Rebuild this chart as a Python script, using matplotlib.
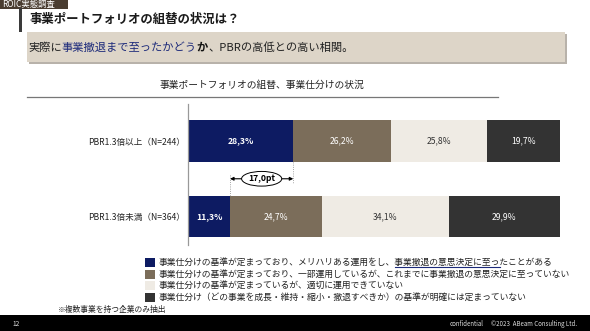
import matplotlib
matplotlib.use("Agg")
import matplotlib.pyplot as plt
from matplotlib.patches import Rectangle

plt.rcParams['font.family'] = ['Noto Sans CJK JP', 'DejaVu Sans']

# ---- data ----
groups = ["PBR1.3倍以上（N=244）", "PBR1.3倍未満（N=364）"]
series_labels = [
    "事業仕分けの基準が定まっており、メリハリある運用をし、事業撤退の意思決定に至ったことがある",
    "事業仕分けの基準が定まっており、一部運用しているが、これまでに事業撤退の意思決定に至っていない",
    "事業仕分けの基準が定まっているが、適切に運用できていない",
    "事業仕分け（どの事業を成長・維持・縮小・撤退すべきか）の基準が明確には定まっていない",
]
values_high = [28.3, 26.2, 25.8, 19.7]
values_low = [11.3, 24.7, 34.1, 29.9]
diff_label = "17,0pt"

colors = ["#0d1b62", "#7b6d5a", "#efebe4", "#333333"]
text_colors = ["white", "white", "#333333", "white"]

W, H = 590, 331
fig = plt.figure(figsize=(W / 100, H / 100), dpi=100)
fig.patch.set_facecolor("white")


def fx(px):
    return px / W


def fy(py):
    return 1 - py / H


# ---- header ----
fig.patches.append(Rectangle((fx(0), fy(8.5)), fx(68), 8.5 / H, transform=fig.transFigure,
                             facecolor="#4a3d31", edgecolor="none"))
fig.text(fx(2), fy(4.3), "ROIC実態調査", color="white", fontsize=6.0, va="center", ha="left")
fig.patches.append(Rectangle((fx(19), fy(32)), fx(3), 23.5 / H, transform=fig.transFigure,
                             facecolor="#3a3a3a", edgecolor="none"))
fig.text(fx(29), fy(19), "事業ポートフォリオの組替の状況は？", fontsize=8.95, fontweight="bold",
         color="#1a1a1a", va="center", ha="left")

# subtitle box with shadow
fig.patches.append(Rectangle((fx(29), fy(64)), fx(538), 30 / H, transform=fig.transFigure,
                             facecolor="#b8b2aa", edgecolor="none"))
fig.patches.append(Rectangle((fx(27), fy(62)), fx(538), 30 / H, transform=fig.transFigure,
                             facecolor="#ddd5c8", edgecolor="none"))

fig.canvas.draw()
renderer = fig.canvas.get_renderer()


def run_text(x_px, y_px, pieces, fontsize):
    x = fx(x_px)
    for s, col, wt in pieces:
        t = fig.text(x, fy(y_px), s, color=col, fontweight=wt, fontsize=fontsize,
                     va="center", ha="left")
        bb = t.get_window_extent(renderer=renderer)
        x = bb.x1 / W
    return x


run_text(28, 47.5, [("実際に", "#222222", "normal"),
                    ("事業撤退まで至ったかどう", "#1c2a7a", "normal"),
                    ("か", "#111111", "bold"),
                    ("、PBRの高低との高い相関。", "#222222", "normal")], 8.1)

# chart title and rule
fig.text(fx(262), fy(85), "事業ポートフォリオの組替、事業仕分けの状況", fontsize=7.0,
         color="#222222", ha="center", va="center")
fig.add_artist(plt.Line2D([fx(27), fx(498)], [fy(96.5), fy(96.5)], color="#777777", lw=0.9))

# ---- bars ----
ax = fig.add_axes([fx(188), fy(245), fx(372), 141 / H])
ax.set_xlim(0, 100)
ax.set_ylim(1.377, -0.490)
bar_h = 0.55
for yi, vals in enumerate([values_high, values_low]):
    left = 0
    for j, v in enumerate(vals):
        ax.barh(yi, v, left=left, height=bar_h, color=colors[j], edgecolor="none")
        ax.text(left + v / 2, yi, f"{v:.1f}%".replace(".", ","), ha="center", va="center",
                color=text_colors[j], fontsize=6.2,
                fontweight="bold" if j == 0 else "normal")
        left += v
for s in ["top", "right", "bottom"]:
    ax.spines[s].set_visible(False)
ax.spines["left"].set_color("#999999")
ax.spines["left"].set_linewidth(0.9)
ax.set_xticks([])
ax.set_yticks([0, 1])
ax.set_yticklabels(groups, fontsize=6.2, color="#222222")
ax.tick_params(axis="y", length=0, pad=2)
ax.patch.set_alpha(0)

# difference annotation
ya = 0.5
ax.plot([values_high[0]] * 2, [bar_h / 2, ya + 0.05], color="#888888", lw=0.6, ls=":")
ax.plot([values_low[0]] * 2, [ya - 0.05, 1 - bar_h / 2], color="#888888", lw=0.6, ls=":")
ax.annotate("", xy=(values_low[0], ya), xytext=(values_high[0], ya),
            arrowprops=dict(arrowstyle="<|-|>", color="black", lw=0.8,
                            mutation_scale=5, shrinkA=0, shrinkB=0))
ax.text((values_low[0] + values_high[0]) / 2, ya, diff_label, ha="center", va="center",
        fontsize=6.2, fontweight="bold", color="black",
        bbox=dict(boxstyle="ellipse,pad=0.08", facecolor="white", edgecolor="black", lw=0.7))

# ---- legend ----
leg_fs = 6.35
leg_y = [262.5, 274, 285.5, 297.5]
for j, lab in enumerate(series_labels):
    fig.patches.append(Rectangle((fx(145), fy(leg_y[j] + 4.5)), fx(10), 9 / H,
                                 transform=fig.transFigure, facecolor=colors[j], edgecolor="none"))
    fig.text(fx(159), fy(leg_y[j]), lab, fontsize=leg_fs, color="#222222", ha="left", va="center")

# underline on first legend item
prefix = "事業仕分けの基準が定まっており、メリハリある運用をし、"
under = "事業撤退の意思決定に至っ"
tp = fig.text(fx(159), fy(262.5), prefix, fontsize=leg_fs, alpha=0, ha="left", va="center")
tu = fig.text(fx(159), fy(262.5), prefix + under, fontsize=leg_fs, alpha=0, ha="left", va="center")
x0 = tp.get_window_extent(renderer=renderer).x1 / W
x1 = tu.get_window_extent(renderer=renderer).x1 / W
fig.add_artist(plt.Line2D([x0, x1], [fy(267), fy(267)], color="#1c2a7a", lw=0.8))

fig.text(fx(58), fy(310), "※複数事業を持つ企業のみ抽出", fontsize=5.6, color="#222222",
         ha="left", va="center")

# ---- footer ----
fig.patches.append(Rectangle((0, 0), 1, 16 / H, transform=fig.transFigure,
                             facecolor="black", edgecolor="none"))
fig.text(fx(12), fy(323.5), "12", fontsize=4.8, color="#dddddd", ha="left", va="center")
fig.text(fx(484), fy(323.5), "confidential", fontsize=4.4, color="#dddddd", ha="right", va="center")
fig.text(fx(577), fy(323.5), "©2023  ABeam Consulting Ltd.", fontsize=4.4, color="#dddddd",
         ha="right", va="center")

fig.savefig("out.png", dpi=100)
